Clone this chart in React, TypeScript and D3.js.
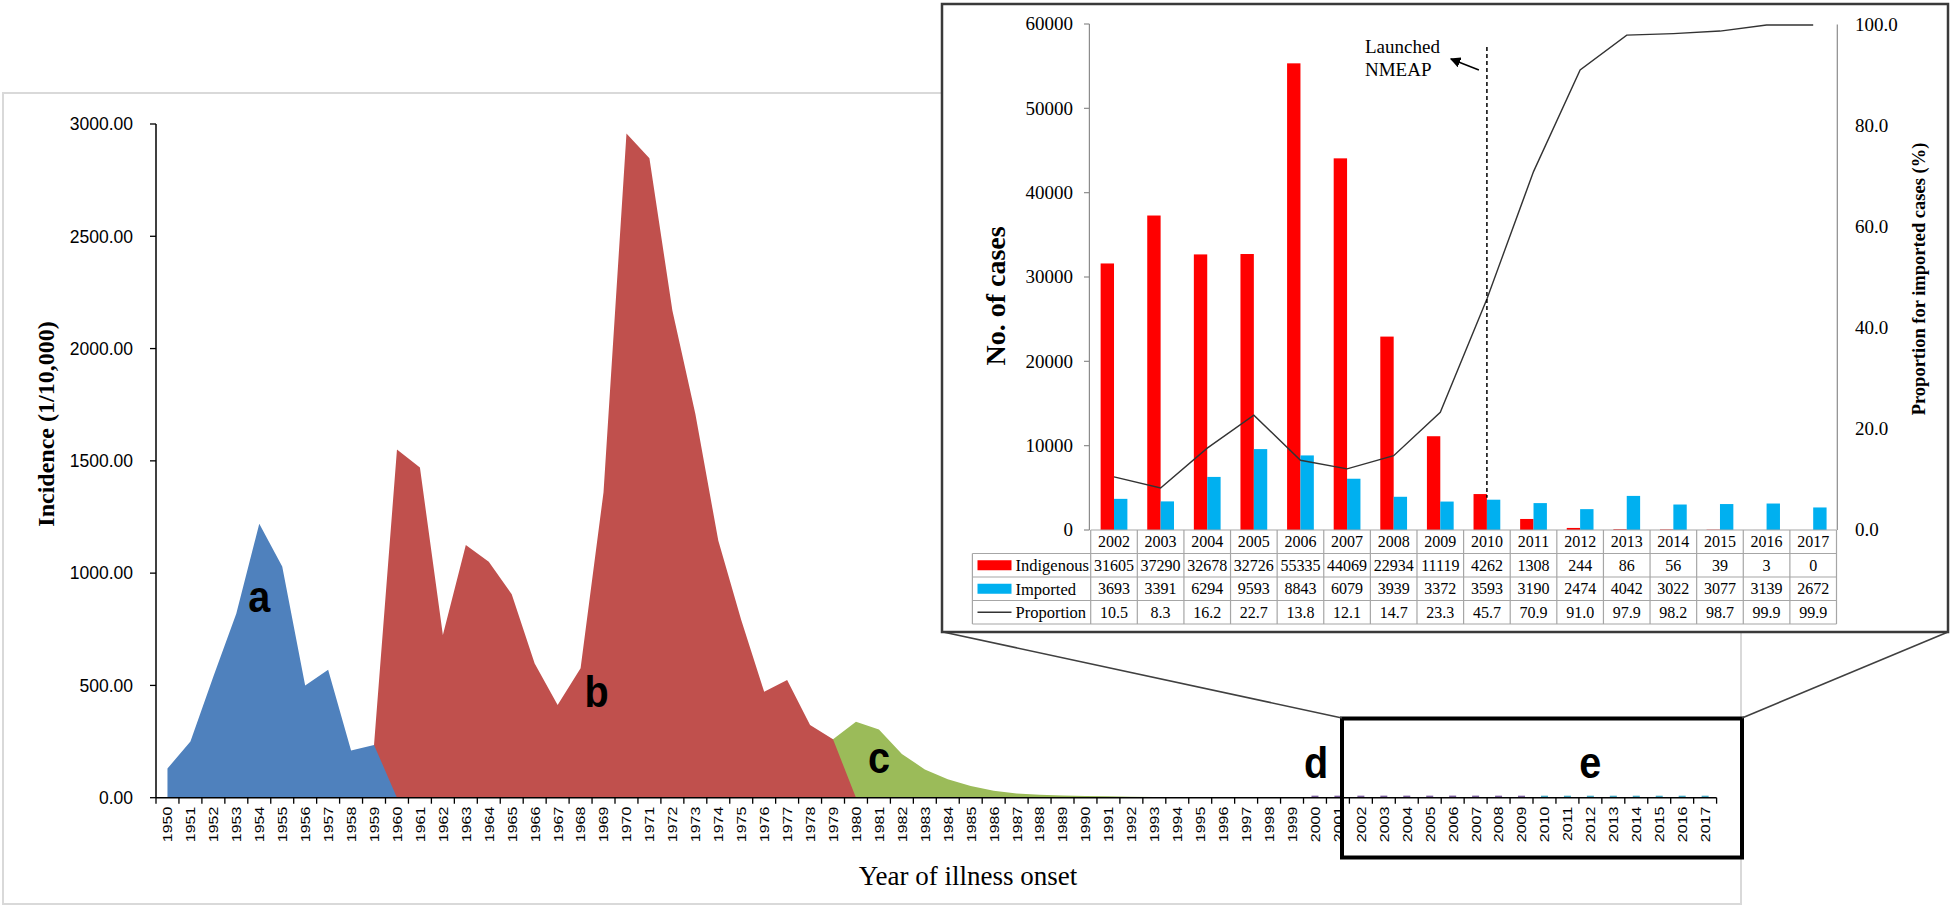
import React from 'react';
import * as d3 from 'd3';

// ---------- Main chart data (incidence per 10,000) ----------
const years = [
  1950, 1951, 1952, 1953, 1954, 1955, 1956, 1957, 1958, 1959,
  1960, 1961, 1962, 1963, 1964, 1965, 1966, 1967, 1968, 1969,
  1970, 1971, 1972, 1973, 1974, 1975, 1976, 1977, 1978, 1979,
  1980, 1981, 1982, 1983, 1984, 1985, 1986, 1987, 1988, 1989,
  1990, 1991, 1992, 1993, 1994, 1995, 1996, 1997, 1998, 1999,
  2000, 2001, 2002, 2003, 2004, 2005, 2006, 2007, 2008, 2009,
  2010, 2011, 2012, 2013, 2014, 2015, 2016, 2017,
];

const aStart = 1950;
const aValues = [130, 250, 540, 820, 1220, 1030, 500, 570, 210, 235, 0];

const bStart = 1959;
const bValues = [235, 1550, 1470, 724, 1125, 1051, 906, 598, 413, 576, 1360, 2958, 2847, 2170, 1710, 1145, 791, 472, 524, 324, 260, 0];

const cStart = 1979;
const cValues = [260, 338, 304, 195, 126, 82, 52, 31, 19, 13, 10, 8, 6, 4, 3, 2.5, 2, 1.5, 1.2, 1.0, 0.8];

const dStart = 2000;
const dValues = [0.19, 0.2, 0.27, 0.31, 0.29, 0.32, 0.48, 0.38, 0.2, 0.11];

const eStart = 2010;
const eValues = [0.06, 0.03, 0.02, 0.03, 0.02, 0.02, 0.02, 0.02];

const yTicks = [0, 500, 1000, 1500, 2000, 2500, 3000];

// ---------- Inset data ----------
const insetYears = ['2002', '2003', '2004', '2005', '2006', '2007', '2008', '2009', '2010', '2011', '2012', '2013', '2014', '2015', '2016', '2017'];
const indigenous = [31605, 37290, 32678, 32726, 55335, 44069, 22934, 11119, 4262, 1308, 244, 86, 56, 39, 3, 0];
const imported = [3693, 3391, 6294, 9593, 8843, 6079, 3939, 3372, 3593, 3190, 2474, 4042, 3022, 3077, 3139, 2672];
const proportion = [10.5, 8.3, 16.2, 22.7, 13.8, 12.1, 14.7, 23.3, 45.7, 70.9, 91.0, 97.9, 98.2, 98.7, 99.9, 99.9];
const leftTicks = [0, 10000, 20000, 30000, 40000, 50000, 60000];
const rightTicks = [0, 20, 40, 60, 80, 100];

const SERIF = '"Liberation Serif", "Times New Roman", serif';
const SANS = '"Liberation Sans", Arial, sans-serif';

function T({ x, y, sx = 1, rot = 0, children, ...rest }: any) {
  const tf = `translate(${x},${y}) scale(${sx},1)${rot ? ` rotate(${rot})` : ''}`;
  return (
    <text transform={tf} {...rest}>
      {children}
    </text>
  );
}

export default function App() {
  // main scales
  const x = d3.scaleBand<number>().domain(years).range([156, 1716.6]).padding(0);
  const bw = x.bandwidth();
  const cx = (yr: number) => (x(yr) as number) + bw / 2;
  const y = d3.scaleLinear().domain([0, 3000]).range([797.7, 124]);

  const toPts = (start: number, vals: number[]) => vals.map((v, i) => ({ yr: start + i, v }));
  const area = d3
    .area<{ yr: number; v: number }>()
    .x((d) => cx(d.yr))
    .y0(y(0))
    .y1((d) => y(d.v));

  const seriesArea = [
    { pts: toPts(cStart, cValues), color: '#9BBB59' },
    { pts: toPts(bStart, bValues), color: '#C0504D' },
    { pts: toPts(aStart, aValues), color: '#4F81BD' },
  ];
  const seriesDash = [
    { pts: toPts(dStart, dValues), color: '#8064A2' },
    { pts: toPts(eStart, eValues), color: '#4BACC6' },
  ];

  const axisY = y(0);
  const boundaries = d3.range(years.length + 1).map((i) => 156 + i * bw);

  // inset scales
  const xi = d3.scaleBand<string>().domain(insetYears).range([1090.7, 1836.5]).padding(0);
  const ibw = xi.bandwidth();
  const sub = d3.scaleBand<string>().domain(['ind', 'imp']).range([0, ibw]).paddingInner(0).paddingOuter(0.742);
  const yl = d3.scaleLinear().domain([0, 60000]).range([530, 24]);
  const yr = d3.scaleLinear().domain([0, 100]).range([530, 24.5]);
  const line = d3
    .line<number>()
    .x((_, i) => (xi(insetYears[i]) as number) + ibw / 2)
    .y((d) => yr(d));

  const tblLeft = 972.4;
  const tblRight = 1836.5;
  const rowH = 23.5;
  const rowTop = [530, 530 + rowH, 530 + 2 * rowH, 530 + 3 * rowH];
  const tblBottom = 530 + 4 * rowH;
  const gridC = '#a6a6a6';

  const dashX = (xi('2010') as number) + ibw / 2;

  return (
    <svg
      width={1955}
      height={909}
      style={{ position: 'absolute', left: 0, top: 0, display: 'block', background: '#fff' }}
    >
      <defs>
        <marker id="arr" viewBox="0 0 10 10" refX="9" refY="5" markerWidth="7" markerHeight="7" orient="auto-start-reverse">
          <path d="M0,0 L10,5 L0,10 z" fill="#000" />
        </marker>
      </defs>

      {/* main panel */}
      <rect x={3} y={93} width={1738} height={811} fill="#fff" stroke="#d9d9d9" strokeWidth={2} />

      {/* areas (first series in front) */}
      {seriesArea.map((s, i) => (
        <path key={i} d={area(s.pts) as string} fill={s.color} />
      ))}
      {seriesDash.map((s, i) => (
        <g key={i}>
          {s.pts.map((p) => (
            <line key={p.yr} x1={cx(p.yr) - 3.5} x2={cx(p.yr) + 3.5} y1={y(p.v) - 1.2} y2={y(p.v) - 1.2} stroke={s.color} strokeWidth={1.6} />
          ))}
        </g>
      ))}

      {/* y axis */}
      <line x1={156} x2={156} y1={y(3000)} y2={axisY} stroke="#000" strokeWidth={1.5} />
      {yTicks.map((t) => (
        <g key={t}>
          <line x1={150} x2={156} y1={y(t)} y2={y(t)} stroke="#000" strokeWidth={1.3} />
          <text x={133} y={y(t)} dy="0.36em" textAnchor="end" fontFamily={SANS} fontSize={17.5} fill="#000">
            {d3.format('.2f')(t)}
          </text>
        </g>
      ))}
      <T x={46} y={424} rot={-90} textAnchor="middle" dy="0.35em" fontFamily={SERIF} fontWeight="bold" fontSize={24}>
        Incidence (1/10,000)
      </T>

      {/* x axis */}
      <line x1={156} x2={boundaries[boundaries.length - 1]} y1={axisY} y2={axisY} stroke="#000" strokeWidth={1.5} />
      {boundaries.map((b, i) => (
        <line key={i} x1={b} x2={b} y1={axisY} y2={axisY + 6} stroke="#000" strokeWidth={1.3} />
      ))}
      {years.map((yrr) => (
        <T key={yrr} x={cx(yrr)} y={axisY + 9} sx={0.85} rot={-90} textAnchor="end" dy="0.36em" fontFamily={SANS} fontSize={16}>
          {String(yrr)}
        </T>
      ))}
      <text x={968} y={885} textAnchor="middle" fontFamily={SERIF} fontSize={27}>
        Year of illness onset
      </text>

      {/* series labels */}
      {[
        { t: 'a', yr: 1954, v: 828, dx: 0 },
        { t: 'b', yr: 1969, v: 405, dx: -7 },
        { t: 'c', yr: 1981, v: 109, dx: 0 },
        { t: 'd', yr: 2000, v: 87, dx: 1 },
        { t: 'e', yr: 2012, v: 87, dx: 0 },
      ].map((l) => (
        <T key={l.t} x={cx(l.yr) + l.dx} y={y(l.v)} sx={0.9} textAnchor="middle" fontFamily={SANS} fontWeight="bold" fontSize={44}>
          {l.t}
        </T>
      ))}

      {/* zoom box + connectors */}
      <rect x={1342} y={718.5} width={400} height={139} fill="none" stroke="#000" strokeWidth={4} />
      <line x1={943} y1={632} x2={1342} y2={718} stroke="#404040" strokeWidth={1.6} />
      <line x1={1742} y1={718} x2={1948} y2={632} stroke="#404040" strokeWidth={1.6} />

      {/* ---------- inset ---------- */}
      <rect x={942} y={4} width={1006} height={628} fill="#fff" stroke="#3a3a3a" strokeWidth={2.5} />

      {/* left axis */}
      <line x1={1089.4} x2={1089.4} y1={yl(60000)} y2={yl(0)} stroke="#8c8c8c" strokeWidth={1.2} />
      {leftTicks.map((t) => (
        <g key={t}>
          <line x1={1084} x2={1089.4} y1={yl(t)} y2={yl(t)} stroke="#8c8c8c" strokeWidth={1.2} />
          <text x={1073} y={yl(t)} dy="0.33em" textAnchor="end" fontFamily={SERIF} fontSize={19}>
            {t}
          </text>
        </g>
      ))}
      <T x={995} y={296} rot={-90} textAnchor="middle" dy="0.35em" fontFamily={SERIF} fontWeight="bold" fontSize={28}>
        No. of cases
      </T>

      {/* right axis */}
      <line x1={1837.3} x2={1837.3} y1={yr(100)} y2={yr(0)} stroke="#8c8c8c" strokeWidth={1.2} />
      {rightTicks.map((t) => (
        <text key={t} x={1855} y={yr(t)} dy="0.33em" textAnchor="start" fontFamily={SERIF} fontSize={19}>
          {d3.format('.1f')(t)}
        </text>
      ))}
      <T x={1919} y={279} rot={-90} textAnchor="middle" dy="0.35em" fontFamily={SERIF} fontWeight="bold" fontSize={18.5}>
        Proportion for imported cases (%)
      </T>

      {/* bars */}
      {insetYears.map((yy, i) => {
        const x0 = xi(yy) as number;
        return (
          <g key={yy}>
            <rect x={x0 + (sub('ind') as number)} width={sub.bandwidth()} y={yl(indigenous[i])} height={yl(0) - yl(indigenous[i])} fill="#FF0000" />
            <rect x={x0 + (sub('imp') as number)} width={sub.bandwidth()} y={yl(imported[i])} height={yl(0) - yl(imported[i])} fill="#00B0F0" />
          </g>
        );
      })}

      {/* proportion line */}
      <path d={line(proportion) as string} fill="none" stroke="#333" strokeWidth={1.4} />

      {/* NMEAP dashed marker */}
      <line x1={dashX} x2={dashX} y1={47} y2={yl(imported[8]) - 2} stroke="#000" strokeWidth={1.5} strokeDasharray="4 3" />
      <line x1={dashX - 8} y1={70} x2={dashX - 36} y2={59} stroke="#000" strokeWidth={1.5} markerEnd="url(#arr)" />
      <text x={1365} y={52.5} fontFamily={SERIF} fontSize={19}>Launched</text>
      <text x={1365} y={76} fontFamily={SERIF} fontSize={19}>NMEAP</text>

      {/* data table */}
      <g stroke={gridC} strokeWidth={1.2}>
        <line x1={xi.range()[0]} x2={tblRight} y1={rowTop[0]} y2={rowTop[0]} />
        {[1, 2, 3].map((r) => (
          <line key={r} x1={tblLeft} x2={tblRight} y1={rowTop[r]} y2={rowTop[r]} />
        ))}
        <line x1={tblLeft} x2={tblRight} y1={tblBottom} y2={tblBottom} />
        <line x1={tblLeft} x2={tblLeft} y1={rowTop[1]} y2={tblBottom} />
        {insetYears.map((yy) => (
          <line key={yy} x1={xi(yy) as number} x2={xi(yy) as number} y1={rowTop[0]} y2={tblBottom} />
        ))}
        <line x1={tblRight} x2={tblRight} y1={rowTop[0]} y2={tblBottom} />
      </g>
      {insetYears.map((yy, i) => {
        const c = (xi(yy) as number) + ibw / 2;
        return (
          <g key={yy} fontFamily={SERIF} fontSize={16} textAnchor="middle">
            <text x={c} y={rowTop[0] + rowH / 2} dy="0.35em">{yy}</text>
            <text x={c} y={rowTop[1] + rowH / 2} dy="0.35em">{indigenous[i]}</text>
            <text x={c} y={rowTop[2] + rowH / 2} dy="0.35em">{imported[i]}</text>
            <text x={c} y={rowTop[3] + rowH / 2} dy="0.35em">{d3.format('.1f')(proportion[i])}</text>
          </g>
        );
      })}
      {/* legend keys in table */}
      <rect x={977.5} y={rowTop[1] + rowH / 2 - 5} width={34} height={10} fill="#FF0000" />
      <rect x={977.5} y={rowTop[2] + rowH / 2 - 5} width={34} height={10} fill="#00B0F0" />
      <line x1={977.5} x2={1011.5} y1={rowTop[3] + rowH / 2} y2={rowTop[3] + rowH / 2} stroke="#333" strokeWidth={1.6} />
      <g fontFamily={SERIF} fontSize={16.5}>
        <text x={1015.5} y={rowTop[1] + rowH / 2} dy="0.35em">Indigenous</text>
        <text x={1015.5} y={rowTop[2] + rowH / 2} dy="0.35em">Imported</text>
        <text x={1015.5} y={rowTop[3] + rowH / 2} dy="0.35em">Proportion</text>
      </g>
    </svg>
  );
}
